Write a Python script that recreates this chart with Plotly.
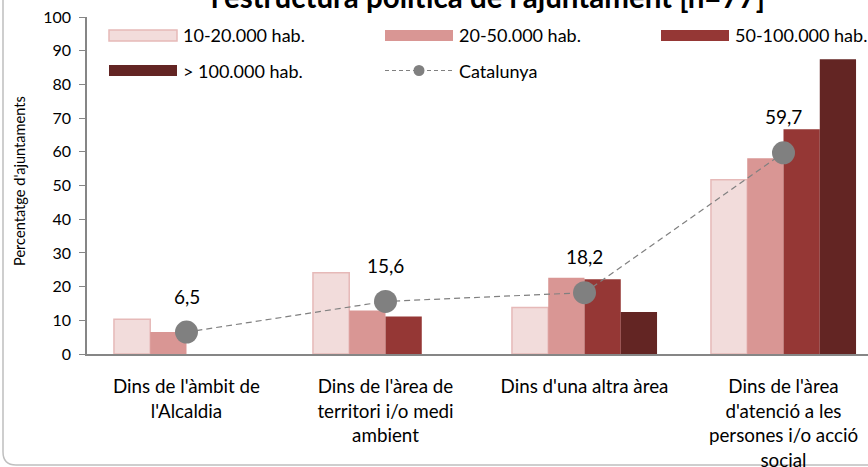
import plotly.graph_objects as go

# ---------------- data ----------------
categories = [
    "Dins de l'àmbit de<br>l'Alcaldia",
    "Dins de l'àrea de<br>territori i/o medi<br>ambient",
    "Dins d'una altra àrea",
    "Dins de l'àrea<br>d'atenció a les<br>persones i/o acció<br>social",
]
series_names = ["10-20.000 hab.", "20-50.000 hab.", "50-100.000 hab.", "> 100.000 hab."]
v_10_20 = [10.3, 24.1, 13.8, 51.7]
v_20_50 = [6.5, 12.9, 22.6, 58.1]
v_50_100 = [0, 11.1, 22.2, 66.7]
v_100_plus = [0, 0, 12.5, 87.5]
catalunya_name = "Catalunya"
catalunya = [6.5, 15.6, 18.2, 59.7]
y_ticks = list(range(0, 101, 10))
title_text = "l'estructura política de l'ajuntament [n=77]"
y_title = "Percentatge d'ajuntaments"

# ---------------- style ----------------
FONT = "Lato"
fills = ["#F2DCDB", "#D99694", "#953735", "#632523"]
borders = ["#E6B9B8", "#D99694", "#953735", "#632523"]
GRAY = "#808080"
AXIS = "#868686"

W, H = 868, 467
L, R, T, B = 87, 0, 17, 113
pw = W - L - R
ph = H - T - B
CAT_PX = 199.0


def px(x):
    return (x - L) / pw


def py(y):
    return (H - B - y) / ph


fig = go.Figure()
for i, (name, vals) in enumerate(zip(series_names, [v_10_20, v_20_50, v_50_100, v_100_plus])):
    fig.add_trace(go.Bar(
        x=categories, y=vals, name=name,
        marker=dict(color=fills[i], line=dict(color=borders[i], width=1.5 if i == 0 else 0)),
        showlegend=False, hoverinfo="skip",
    ))

fig.add_trace(go.Scatter(
    x=categories, y=catalunya, name=catalunya_name, mode="lines+markers",
    line=dict(color=GRAY, width=1.2, dash="6px,4px"),
    marker=dict(color=GRAY, size=23),
    showlegend=False,
))

annotations = []
for c, v in zip(categories, catalunya):
    annotations.append(dict(
        x=c, y=v, xref="x", yref="y", text=f"{v:.1f}".replace(".", ","),
        showarrow=False, yshift=36, font=dict(family=FONT, size=19, color="#000000"),
    ))

# title (only the visible line)
annotations.append(dict(
    x=px(488), y=py(-3.5), xref="paper", yref="paper", text="<b>" + title_text + "</b>",
    showarrow=False, xanchor="center", yanchor="middle",
    font=dict(family=FONT, size=29.5, color="#000000"),
))
# y axis title
annotations.append(dict(
    x=px(19), y=py(181), xref="paper", yref="paper", text=y_title, textangle=-90,
    showarrow=False, xanchor="center", yanchor="middle",
    font=dict(family=FONT, size=14.6, color="#000000"),
))

shapes = []
# legend (manual, to reproduce wide swatches)
leg_items = [
    (series_names[0], 109, 35.5, "bar", 0),
    (series_names[1], 385, 35.5, "bar", 1),
    (series_names[2], 661, 35.5, "bar", 2),
    (series_names[3], 109, 70.5, "bar", 3),
    (catalunya_name, 385, 70.5, "line", None),
]
for name, x0, yc, kind, idx in leg_items:
    if kind == "bar":
        shapes.append(dict(
            type="rect", xref="paper", yref="paper",
            x0=px(x0), x1=px(x0 + 68), y0=py(yc + 5.5), y1=py(yc - 5.5),
            fillcolor=fills[idx], line=dict(color=borders[idx], width=1.5 if idx == 0 else 0),
        ))
    else:
        shapes.append(dict(
            type="line", xref="paper", yref="paper",
            x0=px(x0), x1=px(x0 + 68), y0=py(yc), y1=py(yc),
            line=dict(color=GRAY, width=1.2, dash="4px,3px"),
        ))
        shapes.append(dict(
            type="circle", xref="paper", yref="paper",
            x0=px(x0 + 34 - 5.5), x1=px(x0 + 34 + 5.5), y0=py(yc + 5.5), y1=py(yc - 5.5),
            fillcolor=GRAY, line=dict(width=0),
        ))
    annotations.append(dict(
        x=px(x0 + 72), y=py(yc), xref="paper", yref="paper", text=name,
        showarrow=False, xanchor="left", yanchor="middle",
        font=dict(family=FONT, size=18, color="#000000"),
    ))

# rounded chart-area border (partially visible)
shapes.append(dict(
    type="path", xref="paper", yref="paper",
    path=(f"M {px(3)},{py(-20)} L {px(3)},{py(452)} "
          f"Q {px(3)},{py(465)} {px(16)},{py(465)} L {px(900)},{py(465)}"),
    line=dict(color="#BFBFBF", width=1.5), layer="below",
))

fig.update_layout(
    width=W, height=H,
    margin=dict(l=L, r=R, t=T, b=B, pad=0),
    paper_bgcolor="white", plot_bgcolor="white",
    barmode="group", bargap=0.271, bargroupgap=0,
    font=dict(family=FONT, color="#000000"),
    annotations=annotations, shapes=shapes,
    showlegend=False,
    xaxis=dict(
        type="category", range=[-0.5, -0.5 + pw / CAT_PX],
        showline=True, linecolor=AXIS, linewidth=1.5, ticks="",
        showgrid=False, zeroline=False,
        tickfont=dict(family=FONT, size=18.8, color="#000000"),
        ticklabelstandoff=15, automargin=False,
    ),
    yaxis=dict(
        range=[0, 100], tickvals=y_ticks, ticks="outside", ticklen=6,
        tickcolor=AXIS, showline=True, linecolor=AXIS, linewidth=1.5,
        showgrid=False, zeroline=False,
        tickfont=dict(family=FONT, size=16, color="#000000"),
        ticklabelstandoff=5, automargin=False,
    ),
)

fig.write_html(
    "out.html",
    config={"displayModeBar": False},
    post_script="document.body.style.margin='0';document.body.style.overflow='hidden';",
)
